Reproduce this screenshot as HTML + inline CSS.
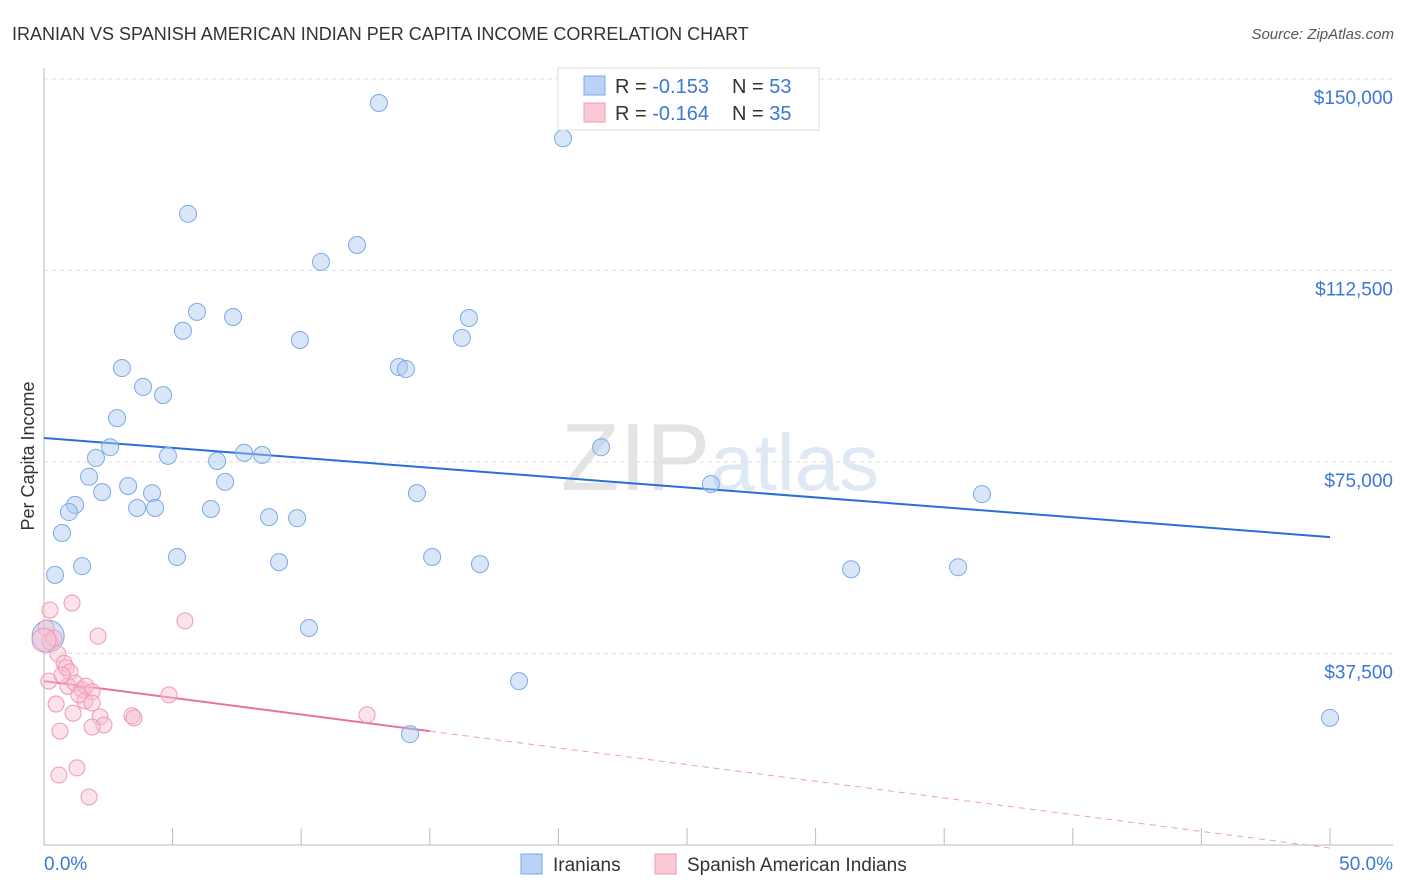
<!DOCTYPE html>
<html><head><meta charset="utf-8"><style>
body{margin:0;background:#fff;font-family:"Liberation Sans",sans-serif;overflow:hidden;}
svg text{font-family:"Liberation Sans",sans-serif;}
</style></head><body>
<svg id="chart" width="1406" height="892" xmlns="http://www.w3.org/2000/svg" style="display:block">
<text x="12" y="40" font-size="18" fill="#333">IRANIAN VS SPANISH AMERICAN INDIAN PER CAPITA INCOME CORRELATION CHART</text>
<text x="1394" y="39" font-size="15" fill="#555" font-style="italic" text-anchor="end">Source: ZipAtlas.com</text>
<text x="720" y="490" font-size="96" fill="#e8e8ee" text-anchor="middle" font-family="Liberation Serif"><tspan fill="#e4e4e4">ZIP</tspan><tspan fill="#dfe8f5" font-family="Liberation Sans" font-size="80">atlas</tspan></text>
<g id="grid"></g>
<g id="axes"></g>
<g id="trends"></g>
<g id="points"></g>
<text transform="translate(34,456) rotate(-90)" font-size="18" fill="#333" text-anchor="middle">Per Capita Income</text>
<g>
<rect x="558" y="68" width="261" height="62" fill="#fff" stroke="#ddd"/>
<rect x="584" y="76" width="21" height="19" fill="#b8d3f5" stroke="#7aaae8"/>
<rect x="584" y="103" width="21" height="19" fill="#fbc8d6" stroke="#ee9ab3"/>
<text x="615" y="93" font-size="20" fill="#333">R = <tspan fill="#3a78d4">-0.153</tspan><tspan x="732">N = </tspan><tspan fill="#3a78d4">53</tspan></text>
<text x="615" y="120" font-size="20" fill="#333">R = <tspan fill="#3a78d4">-0.164</tspan><tspan x="732">N = </tspan><tspan fill="#3a78d4">35</tspan></text>
</g>
<g>
<rect x="521" y="854" width="21" height="20" fill="#b8d3f5" stroke="#7aaae8"/>
<text x="553" y="871" font-size="19" fill="#333">Iranians</text>
<rect x="655" y="854" width="21" height="20" fill="#fbc8d6" stroke="#ee9ab3"/>
<text x="687" y="871" font-size="19" fill="#333">Spanish American Indians</text>
</g>
</svg>
<script>
const yTicks=[37500,75000,112500,150000];
const yTickLabels=["$37,500","$75,000","$112,500","$150,000"];
const xTickLabels=["0.0%","50.0%"];
const blueX=[13.02,20.18,5.60,12.17,10.77,5.95,7.35,5.40,16.52,9.95,16.25,3.03,13.80,14.07,3.85,4.63,2.84,2.57,21.66,2.02,4.82,7.78,8.48,6.73,1.75,7.04,3.27,2.26,4.20,14.50,25.93,36.47,1.21,0.97,3.62,4.32,6.49,8.75,9.84,0.70,5.17,15.09,1.48,9.14,16.95,31.38,35.54,0.43,10.30,18.47,14.23,50.0,0.16];
const blueY=[145.3,138.4,123.6,117.5,114.2,104.4,103.4,100.7,103.2,98.9,99.3,93.4,93.6,93.2,89.7,88.1,83.6,77.9,77.9,75.8,76.2,76.8,76.4,75.2,72.1,71.1,70.3,69.1,68.9,68.9,70.7,68.7,66.6,65.2,66.0,66.0,65.8,64.2,64.0,61.1,56.4,56.4,54.6,55.4,55.0,54.0,54.4,52.9,42.5,32.1,21.7,24.9,40.9];
const pinkX=[0.23,1.09,2.10,5.48,0.08,0.23,0.39,0.54,0.78,0.86,1.01,0.93,1.21,0.19,1.48,1.63,1.87,1.59,0.47,1.87,1.13,2.18,2.33,1.87,3.42,3.50,4.86,12.56,0.62,1.28,0.58,1.75,0,0.70,1.36];
const pinkY=[46.0,47.4,40.9,43.9,42.5,39.8,40.5,37.4,35.6,34.7,33.9,31.1,31.7,32.1,30.4,31.1,30.0,28.2,27.6,27.8,25.8,25.1,23.5,23.1,25.3,24.9,29.4,25.5,22.3,15.1,13.7,9.4,40.1,33.3,29.4];
const blueTrend=[79.7,60.3];
const pinkTrend=[32.1,-0.6];
const NS="http://www.w3.org/2000/svg";
const X=v=>44+v*25.72;
const Y=v=>845-v/37500*191.5;
function mk(tag,attrs,parent){const e=document.createElementNS(NS,tag);for(const k in attrs)e.setAttribute(k,attrs[k]);document.getElementById(parent).appendChild(e);return e;}
yTicks.forEach((t,i)=>{
 const g=mk('line',{x1:44,x2:1393,y1:Y(t),y2:Y(t),stroke:'#ddd','stroke-dasharray':'4,4'},'grid');
 
 
 const tx=mk('text',{x:1393,y:Y(t)+25,'font-size':19,fill:'#3a78d4','text-anchor':'end'},'axes');
 tx.textContent=yTickLabels[i];
 
 
});
const ax=mk('line',{x1:44,x2:44,y1:68,y2:845,stroke:'#bbb'},'axes');


const bx=mk('line',{x1:44,x2:1393,y1:845,y2:845,stroke:'#bbb'},'axes');


for(let i=0;i<=10;i++){const t=mk('line',{x1:X(i*5),x2:X(i*5),y1:828,y2:845,stroke:'#bbb'},'axes');
 
 }
[[0,'start',44],[50,'end',1393]].forEach((d,i)=>{const t=mk('text',{x:d[2],y:870,'font-size':19,fill:'#3a78d4','text-anchor':d[1]},'axes');t.textContent=xTickLabels[i];
 
 });
const bl=mk('line',{x1:X(0),y1:Y(blueTrend[0]*1000),x2:X(50),y2:Y(blueTrend[1]*1000),stroke:'#2a6fd6','stroke-width':2},'trends');


const pv=x=>pinkTrend[0]+(pinkTrend[1]-pinkTrend[0])*x/50;
const pl=mk('line',{x1:X(0),y1:Y(pv(0)*1000),x2:X(15),y2:Y(pv(15)*1000),stroke:'#e8739a','stroke-width':2},'trends');


const pd=mk('line',{x1:X(15),y1:Y(pv(15)*1000),x2:X(50),y2:Y(pv(50)*1000),stroke:'#e8a0b8','stroke-width':1,'stroke-dasharray':'6,5'},'trends');


blueX.forEach((x,i)=>{const r=i===blueX.length-1?16:8.5;
 const c=mk('circle',{cx:X(x),cy:Y(blueY[i]*1000),r:r,fill:'rgba(168,199,240,0.45)',stroke:'#7aaae8','stroke-width':1},'points');
 
 });
pinkX.forEach((x,i)=>{const r=i===32?12:8;
 const c=mk('circle',{cx:X(x),cy:Y(pinkY[i]*1000),r:r,fill:'rgba(248,190,208,0.45)',stroke:'#ee9ab3','stroke-width':1},'points');
 
 });
</script>
</body></html>
